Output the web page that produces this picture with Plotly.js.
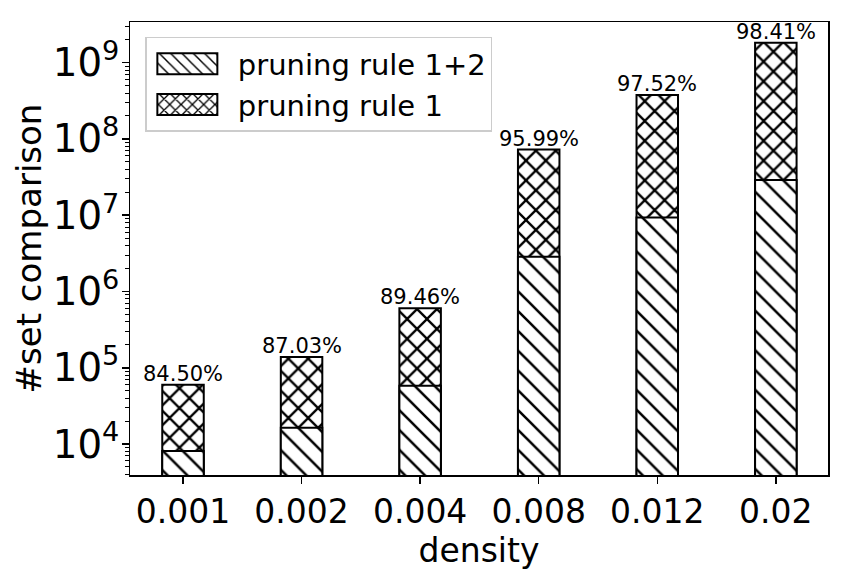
<!DOCTYPE html>
<html>
<head>
<meta charset="utf-8">
<script src="https://cdn.plot.ly/plotly-3.0.1.min.js"></script>
<style>html,body{margin:0;padding:0;background:#fff;}#chart{width:851px;height:578px;}</style>
</head>
<body>
<div id="chart"></div>
<script>
var densities = ["0.001", "0.002", "0.004", "0.008", "0.012", "0.02"];
var rule1 = [60000, 138000, 605000, 72500000, 377000000, 1830000000];
var rule12 = [8100, 16300, 58000, 2850000, 9300000, 29000000];
var reductionLabels = ["84.50%", "87.03%", "89.46%", "95.99%", "97.52%", "98.41%"];

var FONT = "DejaVu Sans, Liberation Sans, sans-serif";

var traceRule1 = {
  type: "bar", x: densities, y: rule1, name: "pruning rule 1",
  width: 0.35, legendrank: 2,
  marker: {color: "white", line: {color: "black", width: 2},
    pattern: {shape: "x", fgcolor: "black", bgcolor: "white", size: 14, solidity: 0.3}},
  hoverinfo: "skip"
};
var traceRule12 = {
  type: "bar", x: densities, y: rule12, name: "pruning rule 1+2",
  width: 0.35, legendrank: 1,
  marker: {color: "white", line: {color: "black", width: 2},
    pattern: {shape: "\\", fgcolor: "black", bgcolor: "white", size: 14, solidity: 0.18}},
  hoverinfo: "skip"
};

var annotations = densities.map(function (d, i) {
  return {x: i, y: Math.log10(rule1[i]), xref: "x", yref: "y", text: reductionLabels[i],
    showarrow: false, yanchor: "bottom", yshift: -3,
    font: {family: FONT, size: 21, color: "black"}};
});

var layout = {
  width: 851, height: 578,
  margin: {l: 130, r: 23, t: 22, b: 103},
  paper_bgcolor: "white", plot_bgcolor: "white",
  barmode: "overlay",
  showlegend: true,
  legend: {x: 0.022, y: 0.967, xanchor: "left", yanchor: "top",
    bgcolor: "rgba(255,255,255,0.8)", bordercolor: "#cccccc", borderwidth: 1.5,
    font: {family: FONT, size: 29, color: "black"}, traceorder: "normal", itemwidth: 81,
    tracegroupgap: 0},
  xaxis: {
    type: "category", range: [-0.447, 5.44],
    showline: true, linecolor: "black", linewidth: 1.5, mirror: true,
    ticks: "outside", ticklen: 7, tickwidth: 1.5, tickcolor: "black",
    tickfont: {family: FONT, size: 33, color: "black"},
    title: {text: "density", font: {family: FONT, size: 33, color: "black"}, standoff: 6},
    showgrid: false, zeroline: false
  },
  yaxis: {
    type: "log", range: [3.594, 9.533],
    dtick: 1, exponentformat: "power",
    showline: true, linecolor: "black", linewidth: 1.5, mirror: true,
    ticks: "outside", ticklen: 7, tickwidth: 1.5, tickcolor: "black",
    ticklabelstandoff: -4,
    minor: {ticks: "outside", ticklen: 4, tickwidth: 1, tickcolor: "black", dtick: "D1", showgrid: false},
    tickfont: {family: FONT, size: 31, color: "black"},
    title: {text: "#set comparison", font: {family: FONT, size: 34, color: "black"}, standoff: 1},
    showgrid: false, zeroline: false
  },
  annotations: annotations
};

Plotly.newPlot("chart", [traceRule1, traceRule12], layout, {staticPlot: true}).then(function (gd) {
  var pts = gd.querySelectorAll(".legend .legendpoints path");
  pts.forEach(function (p) {
    p.setAttribute("d", "M-35,-10.5H25V10.5H-35Z");
  });
});
</script>
</body>
</html>
